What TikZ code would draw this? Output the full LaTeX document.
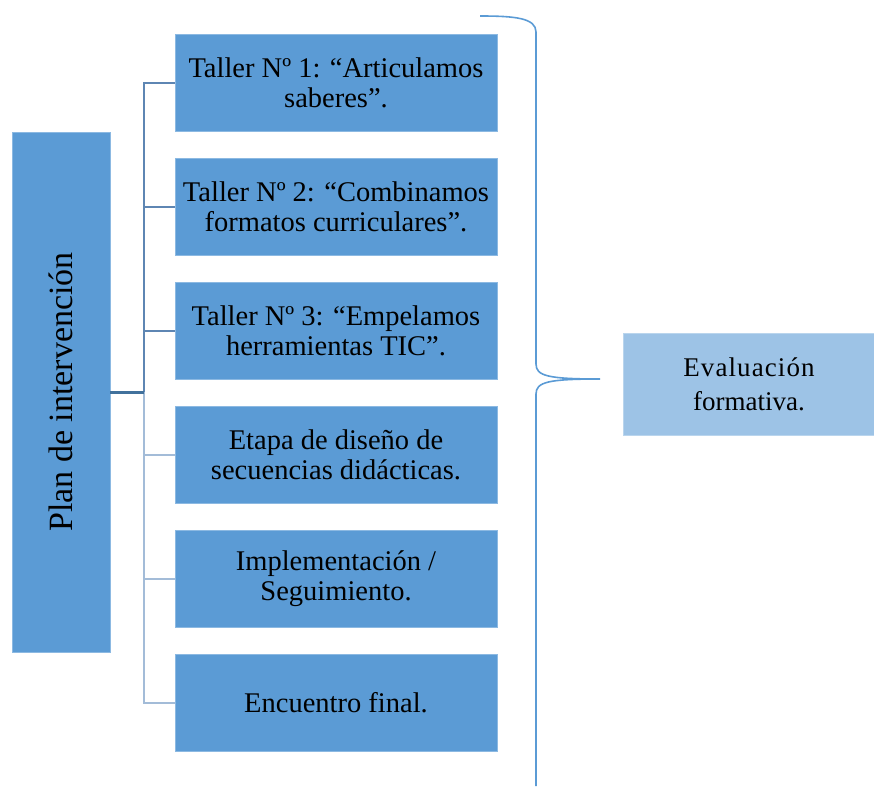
\documentclass[tikz,border=0pt]{standalone}
\usepackage{fontspec}
\setmainfont{Liberation Serif}
\definecolor{boxblue}{HTML}{5B9BD5}
\definecolor{lightbox}{HTML}{9DC3E6}
\definecolor{darkline}{HTML}{41719C}
\definecolor{midline}{HTML}{5E86B3}
\definecolor{paleline}{HTML}{A3BCD8}
\definecolor{bracecol}{HTML}{5B9BD5}
\tikzset{
  stepbox/.style={rectangle, fill=boxblue, draw=boxblue!70!white, line width=0.8pt,
    minimum width=322, minimum height=97, inner sep=0pt,
    align=center, font=\fontsize{28.5}{30}\selectfont},
  darkconn/.style={draw=midline, line width=2pt},
  paleconn/.style={draw=paleline, line width=2pt},
}
\begin{document}
\begin{tikzpicture}[x=1pt,y=-1pt]
\useasboundingbox (0,0) rectangle (874,787);
\node[rectangle, fill=boxblue, draw=boxblue!70!white, line width=0.8pt, minimum width=98, minimum height=520, inner sep=0pt] (plan) at (61,392)
  {\rotatebox{90}{\fontsize{34}{40}\selectfont Plan de intervención}};
\node[stepbox] (t1) at (336,83) {Taller Nº 1: “Articulamos\\ saberes”.};
\node[stepbox] (t2) at (336,206.5) {Taller Nº 2: “Combinamos\\ formatos curriculares”.};
\node[stepbox] (t3) at (336,330.5) {Taller Nº 3: “Empelamos\\ herramientas TIC”.};
\node[stepbox] (t4) at (336,454.5) {Etapa de diseño de\\ secuencias didácticas.};
\node[stepbox] (t5) at (336,579) {Implementación /\\ Seguimiento.};
\node[stepbox] (t6) at (336,703) {Encuentro final.};
\node[rectangle, fill=lightbox, draw=lightbox!70!white, line width=0.8pt, minimum width=252, minimum height=102, inner sep=0pt, align=center,
  font=\fontsize{27}{34}\selectfont] (ev) at (749,384) {\addfontfeature{LetterSpace=4}Evaluación\\ formativa.};
\coordinate (j) at (143.5,392);
\draw[paleconn] (j) |- (t4.west);
\draw[paleconn] (j) |- (t5.west);
\draw[paleconn] (j) |- (t6.west);
\draw[darkconn] (j) |- (t1.west);
\draw[darkconn] (j) |- (t2.west);
\draw[darkconn] (j) |- (t3.west);
\draw[draw=darkline, line width=3pt] (plan.east |- j) -- (j);
\coordinate (bt) at (480,16);
\coordinate (bb) at (536,786);
\coordinate (tipend) at (600,379);
\draw[bracecol, line width=1.6pt]
  (bt) .. controls (515,16) and (536,18) .. (536,32)
  -- (536,364) .. controls (536,376) and (548,379) .. (tipend)
  .. controls (548,379) and (536,382) .. (536,394)
  -- (bb);
\end{tikzpicture}
\end{document}
